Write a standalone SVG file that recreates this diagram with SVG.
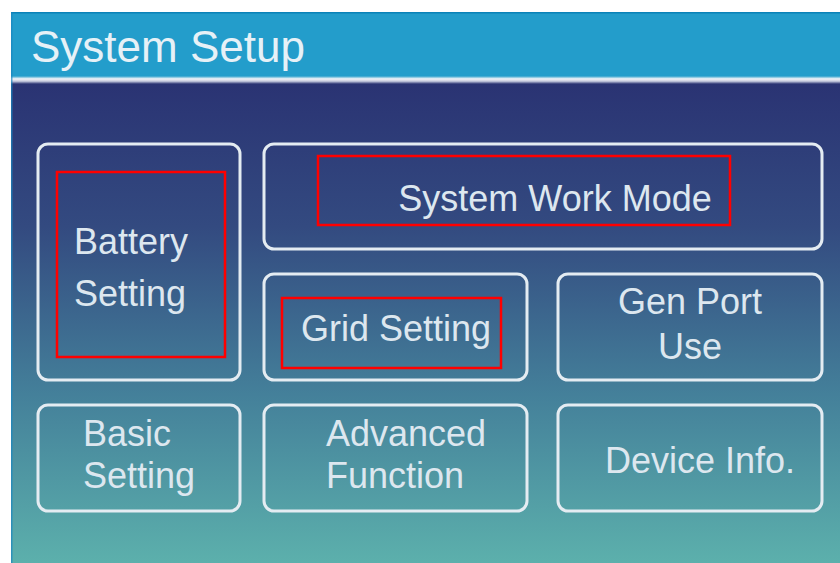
<svg xmlns="http://www.w3.org/2000/svg" width="840" height="563" viewBox="0 0 840 563">
<defs>
<linearGradient id="bg" x1="0" y1="82" x2="0" y2="563" gradientUnits="userSpaceOnUse">
<stop offset="0" stop-color="#2a3373"/>
<stop offset="0.3" stop-color="#334a80"/>
<stop offset="0.65" stop-color="#44809a"/>
<stop offset="1" stop-color="#5cb0ac"/>
</linearGradient>
<linearGradient id="sep" x1="0" y1="76" x2="0" y2="84" gradientUnits="userSpaceOnUse">
<stop offset="0" stop-color="#239dcb"/>
<stop offset="0.35" stop-color="#f2f4f8"/>
<stop offset="0.65" stop-color="#c8cce0"/>
<stop offset="1" stop-color="#2a3373"/>
</linearGradient>
<filter id="glow" x="-5%" y="-20%" width="110%" height="140%">
<feGaussianBlur stdDeviation="0.6"/>
</filter>
</defs>
<style>
.box{fill:none;stroke:#e4ecf2;stroke-width:3}
.hl{fill:none;stroke:#ff0000;stroke-width:2.5}
.lbl{font-family:"Liberation Sans",Arial,sans-serif;font-size:36px;fill:#dde7ef}
.mid{text-anchor:middle}
.title{font-family:"Liberation Sans",Arial,sans-serif;font-size:44px;fill:#e6f1f7}
</style>
<rect x="0" y="0" width="840" height="563" fill="#ffffff"/>
<rect x="11" y="82" width="829" height="481" fill="url(#bg)"/>
<rect x="11" y="12" width="829" height="66" fill="#239dcb"/>
<rect x="11" y="12" width="829" height="1.5" fill="#0b82b8"/>
<rect x="11" y="76" width="829" height="8" fill="url(#sep)"/>
<rect x="11" y="12" width="1.5" height="551" fill="#1a86c0" opacity="0.7"/>
<text id="title" class="title" x="31" y="62">System Setup</text>

<g id="battery-setting">
<rect class="box" x="38" y="144" width="202" height="236" rx="10"/>
<rect class="hl" x="57" y="172" width="168" height="185"/>
<text class="lbl" x="74" y="254">Battery</text>
<text class="lbl" x="74" y="306">Setting</text>
</g>
<g id="system-work-mode">
<rect class="box" x="264" y="144" width="558" height="105" rx="10"/>
<rect class="hl" x="318" y="156" width="412" height="69"/>
<text class="lbl mid" x="555" y="211">System Work Mode</text>
</g>
<g id="grid-setting">
<rect class="box" x="264" y="274" width="263" height="106" rx="10"/>
<rect class="hl" x="282" y="298" width="219" height="70"/>
<text class="lbl mid" x="396" y="341">Grid Setting</text>
</g>
<g id="gen-port-use">
<rect class="box" x="558" y="274" width="264" height="106" rx="10"/>
<text class="lbl mid" x="690" y="314">Gen Port</text>
<text class="lbl mid" x="690" y="359">Use</text>
</g>
<g id="basic-setting">
<rect class="box" x="38" y="405" width="202" height="106" rx="10"/>
<text class="lbl" x="83" y="446">Basic</text>
<text class="lbl" x="83" y="488">Setting</text>
</g>
<g id="advanced-function">
<rect class="box" x="264" y="405" width="263" height="106" rx="10"/>
<text class="lbl" x="326" y="446">Advanced</text>
<text class="lbl" x="326" y="488">Function</text>
</g>
<g id="device-info">
<rect class="box" x="558" y="405" width="264" height="106" rx="10"/>
<text class="lbl mid" x="700" y="473">Device Info.</text>
</g>
<g id="connectors"/>
</svg>
